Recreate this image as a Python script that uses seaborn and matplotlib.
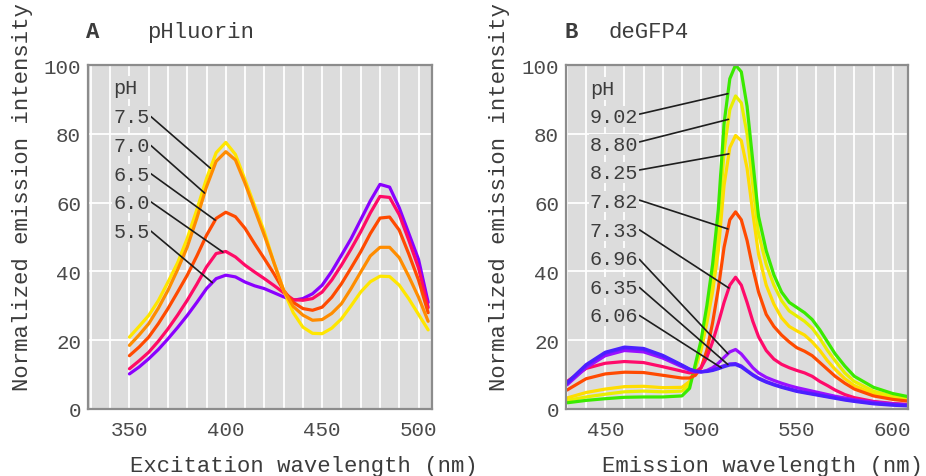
import numpy as np
import pandas as pd
import matplotlib
matplotlib.use("Agg")
import matplotlib.pyplot as plt
import seaborn as sns
from matplotlib.ticker import MultipleLocator

# ---------------- Panel A : pHluorin excitation ----------------
wl_a = [350, 355, 360, 365, 370, 375, 380, 385, 390, 395, 400, 405, 410, 415, 420,
        425, 430, 435, 440, 445, 450, 455, 460, 465, 470, 475, 480, 485, 490, 495, 500, 505]
ph_a = ["7.5", "7.0", "6.5", "6.0", "5.5"]
a_75 = [20.9, 24.0, 27.2, 31.5, 36.9, 42.5, 49.6, 58.0, 67.0, 74.5, 77.5, 74.0, 66.6, 59.0, 51.5,
        42.5, 34.5, 28.0, 23.8, 22.0, 21.9, 23.5, 26.2, 30.0, 34.0, 37.0, 38.6, 38.5, 36.0, 32.0, 27.5, 23.0]
a_70 = [18.5, 21.5, 24.8, 29.3, 34.5, 40.5, 47.1, 55.5, 64.6, 72.0, 74.8, 72.4, 65.6, 58.0, 50.5,
        42.5, 34.5, 29.8, 27.3, 25.8, 26.0, 27.8, 30.6, 35.0, 39.8, 44.5, 47.0, 47.0, 44.0, 38.5, 32.5, 25.5]
a_65 = [15.5, 18.0, 20.9, 24.8, 29.2, 34.0, 38.9, 44.5, 50.5, 55.4, 57.2, 55.9, 52.5, 48.0, 43.7,
        39.3, 34.5, 31.0, 29.2, 28.7, 29.6, 32.5, 36.4, 41.0, 45.7, 51.0, 55.5, 55.8, 52.0, 45.0, 37.5, 28.0]
a_60 = [11.7, 14.0, 16.5, 19.7, 23.3, 27.3, 31.6, 36.3, 41.3, 45.2, 45.8, 44.2, 41.8, 39.8, 37.9,
        35.9, 33.8, 31.8, 31.6, 32.1, 34.0, 37.5, 41.8, 46.5, 51.5, 57.0, 61.8, 61.5, 56.5, 49.0, 41.0, 29.5]
a_55 = [10.2, 12.2, 14.6, 17.3, 20.4, 23.7, 27.2, 31.0, 35.0, 37.9, 38.9, 38.4, 36.9, 35.8, 35.0,
        33.8, 32.6, 31.6, 32.1, 33.5, 36.0, 40.0, 44.7, 49.5, 55.0, 60.5, 65.3, 64.5, 58.5, 51.0, 43.5, 31.0]
series_a = [a_75, a_70, a_65, a_60, a_55]
colors_a = ["#ffe600", "#ff8c00", "#ff4a00", "#ff0a66", "#8a00ff"]
draw_order_a = ["5.5", "6.0", "6.5", "7.5", "7.0"]
xticks_a = [350, 400, 450, 500]
# label baselines / leader targets (annotation positions)
lab_y_a = [83.4, 75.0, 66.7, 58.5, 50.1]
lead_x_a = [392.0, 389.0, 394.5, 398.5, 393.0]

# ---------------- Panel B : deGFP4 emission ----------------
wl_b = [430, 440, 450, 460, 470, 480, 490, 494, 497, 500, 503, 506, 509, 512, 515, 518, 521,
        524, 527, 530, 534, 538, 542, 546, 550, 554, 558, 562, 566, 570, 575, 580, 590, 600, 608]
ph_b = ["9.02", "8.80", "8.25", "7.82", "7.33", "6.96", "6.35", "6.06"]
b_902 = [1.8, 2.5, 3.0, 3.4, 3.5, 3.5, 3.8, 6.0, 13.0, 20.0, 30.0, 42.0, 58.0, 83.0, 96.0, 100.0, 98.0,
         88.0, 72.0, 56.0, 46.0, 39.0, 34.0, 31.0, 29.5, 28.0, 26.0, 23.0, 19.5, 16.0, 12.5, 9.5, 6.3, 4.5, 3.6]
b_880 = [2.5, 3.5, 4.3, 5.0, 5.2, 5.0, 5.2, 7.0, 12.0, 18.0, 27.0, 38.0, 52.0, 75.0, 87.0, 91.0, 89.0,
         80.0, 65.0, 51.0, 42.0, 36.0, 31.5, 28.5, 27.0, 25.5, 23.5, 20.5, 17.0, 14.0, 10.5, 8.0, 5.2, 3.7, 3.0]
b_825 = [3.2, 4.8, 5.8, 6.5, 6.6, 6.2, 6.3, 8.0, 12.0, 17.0, 25.0, 34.0, 46.0, 65.0, 76.0, 79.5, 78.0,
         70.0, 57.0, 45.0, 36.0, 30.5, 26.5, 24.0, 22.7, 21.5, 19.5, 17.0, 14.0, 11.5, 8.8, 6.8, 4.4, 3.2, 2.6]
b_782 = [5.5, 8.8, 10.2, 10.7, 10.6, 9.8, 9.0, 9.0, 9.8, 12.0, 17.0, 25.0, 35.0, 47.0, 55.0, 57.3, 55.0,
         49.0, 41.0, 34.0, 27.5, 24.0, 21.5, 19.5, 17.8, 16.8, 15.5, 13.5, 11.5, 9.5, 7.5, 5.8, 3.8, 2.8, 2.3]
b_733 = [8.0, 11.8, 13.3, 13.8, 13.5, 12.3, 11.0, 10.5, 10.8, 12.0, 15.0, 19.5, 25.0, 31.0, 36.0, 38.3, 36.0,
         31.0, 25.5, 21.0, 17.0, 14.5, 13.0, 12.0, 11.2, 10.5, 9.5, 8.0, 6.8, 5.5, 4.2, 3.3, 2.2, 1.6, 1.3]
b_696 = [7.0, 12.0, 15.5, 17.0, 16.6, 14.8, 12.3, 11.3, 10.8, 10.8, 11.2, 12.0, 13.3, 15.0, 16.6, 17.3, 16.0,
         14.0, 12.0, 10.5, 9.2, 8.3, 7.5, 6.8, 6.2, 5.7, 5.2, 4.7, 4.2, 3.7, 3.2, 2.7, 2.0, 1.5, 1.2]
b_635 = [7.4, 12.6, 16.2, 17.7, 17.3, 15.3, 12.6, 11.5, 11.0, 10.8, 11.0, 11.4, 12.0, 12.6, 13.1, 13.2, 12.5,
         11.2, 10.0, 9.0, 8.0, 7.2, 6.5, 5.9, 5.3, 4.9, 4.5, 4.1, 3.7, 3.3, 2.8, 2.4, 1.7, 1.3, 1.1]
b_606 = [7.6, 12.9, 16.5, 18.0, 17.6, 15.6, 12.8, 11.6, 11.0, 10.8, 10.9, 11.2, 11.7, 12.3, 12.8, 12.9, 12.2,
         11.0, 9.8, 8.8, 7.8, 7.0, 6.3, 5.7, 5.1, 4.7, 4.3, 3.9, 3.5, 3.1, 2.6, 2.2, 1.5, 1.1, 0.9]
series_b = [b_902, b_880, b_825, b_782, b_733, b_696, b_635, b_606]
colors_b = ["#3aea00", "#e8ee00", "#ffdd00", "#ff4a00", "#ff0a6a", "#9a10ff", "#6a1aff", "#4a20ff"]
draw_order_b = ["8.25", "8.80", "9.02", "7.82", "7.33", "6.96", "6.35", "6.06"]
xticks_b = [450, 500, 550, 600]
lab_y_b = [83.4, 75.3, 67.2, 58.8, 50.4, 42.1, 33.8, 25.5]
lead_x_b = [514.0, 514.3, 514.5, 514.0, 514.5, 514.0, 514.0, 510.5]

yticks = [0, 20, 40, 60, 80, 100]

BG = "#dcdcdc"
TXT = "#3c3c3c"

sns.set_theme(style="darkgrid")
plt.rcParams["font.family"] = ["Liberation Mono", "DejaVu Sans Mono"]

W, H = 926, 477
fig = plt.figure(figsize=(W / 100, H / 100), dpi=100)


def px_rect(x0, x1, ytop, ybot):
    return [x0 / W, 1 - ybot / H, (x1 - x0) / W, (ybot - ytop) / H]


def long_df(wl, labels, series):
    return pd.concat([pd.DataFrame({"wl": wl, "val": s, "pH": lab})
                      for lab, s in zip(labels, series)], ignore_index=True)


def panel(rect, wl, labels, series, colors, order, xticks, xlim,
          lab_x, lab_y, lead_x):
    ax = fig.add_axes(rect)
    df = long_df(wl, labels, series)
    pal = dict(zip(labels, colors))
    sns.lineplot(data=df, x="wl", y="val", hue="pH", hue_order=order, palette=pal,
                 linewidth=2.3, legend=False, sort=False, estimator=None, ax=ax)
    for ln in ax.get_lines():
        ln.set_solid_joinstyle("round")
        ln.set_solid_capstyle("round")
    ax.set_facecolor(BG)
    ax.set_xlim(*xlim)
    ax.set_ylim(0, 100)
    ax.set_xticks(xticks)
    ax.xaxis.set_minor_locator(MultipleLocator(10))
    ax.set_yticks(yticks)
    ax.grid(False)
    ax.grid(which="both", axis="x", color="white", linewidth=1.3)
    ax.grid(which="major", axis="y", color="white", linewidth=1.3)
    ax.set_axisbelow(True)
    ax.tick_params(axis="both", which="both", length=0, labelsize=15, labelcolor="#4a4a4a")
    ax.tick_params(axis="x", pad=8)
    ax.tick_params(axis="y", pad=5)
    ax.set_xlabel("")
    ax.set_ylabel("")
    for sp in ax.spines.values():
        sp.set_visible(True)
        sp.set_color("#8c8c8c")
        sp.set_linewidth(1.6)
    # pH header and leader-line labels
    ax.text(lab_x, lab_y[0] + (lab_y[0] - lab_y[1]), "pH", fontsize=14.5, color=TXT,
            ha="left", va="baseline",
            bbox=dict(boxstyle="square,pad=0.1", fc=BG, ec="none"))
    for lab, s, yb, lx in zip(labels, series, lab_y, lead_x):
        yt = float(np.interp(lx, wl, s))
        ax.annotate(lab, xy=(lx, yt), xytext=(lab_x, yb), textcoords="data",
                    fontsize=14.5, color=TXT, ha="left", va="baseline",
                    bbox=dict(boxstyle="square,pad=0.05", fc=BG, ec="none"),
                    arrowprops=dict(arrowstyle="-", color="#1e1e1e", lw=1.2,
                                    shrinkA=0, shrinkB=0, relpos=(0.97, 0.6)))
    return ax


axA = panel(px_rect(88, 432, 66, 410), wl_a, ph_a, series_a, colors_a, draw_order_a,
            xticks_a, (328.5, 507.0), 341.7, lab_y_a, lead_x_a)
axB = panel(px_rect(566, 908, 66, 410), wl_b, ph_b, series_b, colors_b, draw_order_b,
            xticks_b, (429.5, 608.0), 442.0, lab_y_b, lead_x_b)

# titles
base_title = 1 - 38 / H
fig.text(86 / W, base_title, "A", fontsize=16, fontweight="bold", color=TXT, va="baseline")
fig.text(147 / W, base_title, "pHluorin", fontsize=16, color=TXT, va="baseline")
fig.text(565 / W, base_title, "B", fontsize=16, fontweight="bold", color=TXT, va="baseline")
fig.text(608 / W, base_title, "deGFP4", fontsize=16, color=TXT, va="baseline")

# axis labels
for xc in (23, 500):
    fig.text(xc / W, 1 - 391 / H, "Normalized emission intensity", rotation=90,
             ha="center", va="bottom", fontsize=16, color=TXT)
fig.text(130 / W, 1 - 472 / H, "Excitation wavelength (nm)", fontsize=16, color=TXT,
         ha="left", va="baseline")
fig.text(602 / W, 1 - 472 / H, "Emission wavelength (nm)", fontsize=16, color=TXT,
         ha="left", va="baseline")

fig.savefig("out.png", dpi=100)
